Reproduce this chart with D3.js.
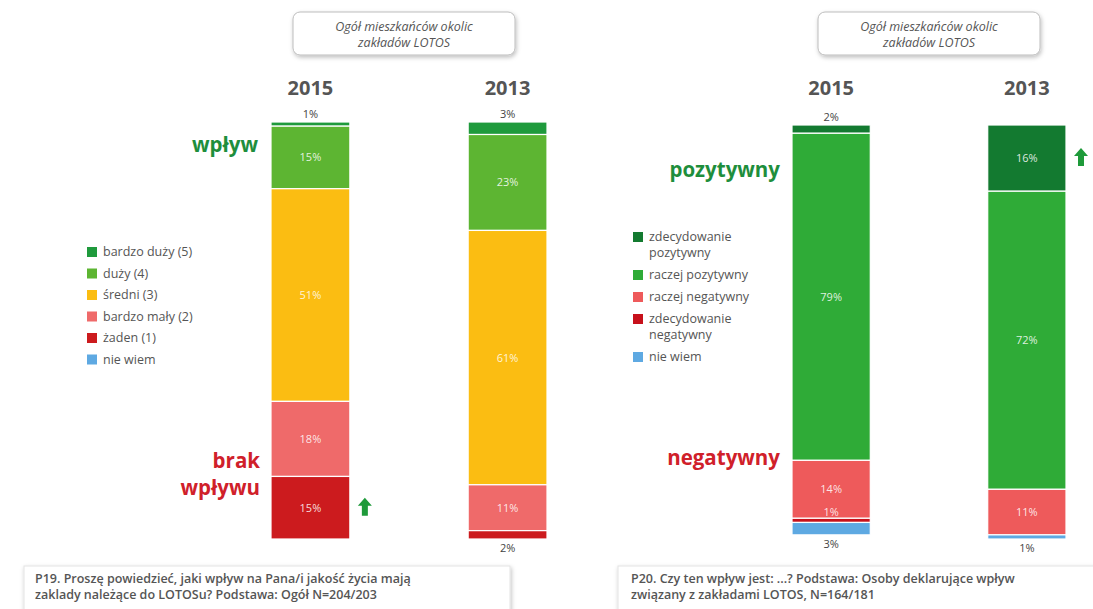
<!DOCTYPE html>
<html><head><meta charset="utf-8">
<script src="https://cdn.jsdelivr.net/npm/d3@7"></script>
<style>
body{margin:0;background:#fff;}
svg{display:block;font-family:"Open Sans","Noto Sans",sans-serif;}
</style></head><body>
<svg id="c" width="1093" height="609"></svg>
<script>
// ---- data ----
const years = ["2015", "2013"];
const keysP19 = ["bardzo duży (5)", "duży (4)", "średni (3)", "bardzo mały (2)", "żaden (1)", "nie wiem"];
const valuesP19_2015 = [1, 15, 51, 18, 15, 0];
const valuesP19_2013 = [3, 23, 61, 11, 2, 0];
const colorsP19 = ["#1f9a3c", "#5db532", "#fbbd12", "#ef6a6a", "#cc1b1e", "#5ea9e2"];

const keysP20 = ["zdecydowanie pozytywny", "raczej pozytywny", "raczej negatywny", "zdecydowanie negatywny", "nie wiem"];
const legendP20 = [["zdecydowanie", "pozytywny"], ["raczej pozytywny"], ["raczej negatywny"], ["zdecydowanie", "negatywny"], ["nie wiem"]];
const valuesP20_2015 = [2, 79, 14, 1, 3];
const valuesP20_2013 = [16, 72, 11, 0, 1];
const colorsP20 = ["#137a30", "#2fab37", "#ee5a5b", "#c7111b", "#5ea9e2"];

const headerText = ["Ogół mieszkańców okolic", "zakładów LOTOS"];
const noteP19 = ["P19. Proszę powiedzieć, jaki wpływ na Pana/i jakość życia mają", "zaklady należące do LOTOSu? Podstawa: Ogół N=204/203"];
const noteP20 = ["P20. Czy ten wpływ jest: ...? Podstawa: Osoby deklarujące wpływ", "związany z zakładami LOTOS, N=164/181"];

const svg = d3.select("#c");
const defs = svg.append("defs");
const f = defs.append("filter").attr("id","sh").attr("x","-10%").attr("y","-20%").attr("width","120%").attr("height","160%");
f.append("feDropShadow").attr("dx",1).attr("dy",2).attr("stdDeviation",2).attr("flood-color","#000").attr("flood-opacity",0.25);

function drawPanel(cfg){
  const g = svg.append("g");
  // header box
  g.append("rect").attr("x",cfg.boxX).attr("y",12).attr("width",222).attr("height",43).attr("rx",7)
    .attr("fill","#fff").attr("stroke","#bdbdbd").attr("filter","url(#sh)");
  headerText.forEach((t,i)=>g.append("text").attr("x",cfg.boxX+111).attr("y",31+i*16)
    .attr("text-anchor","middle").attr("font-size",12.5).attr("font-style","italic").attr("fill","#555").text(t));

  const x = d3.scaleBand().domain(years).range(cfg.xRange).paddingInner(cfg.pad);
  const y = d3.scaleLinear().domain([0,100]).range([cfg.top, cfg.bottom]);
  const rows = years.map((yr,i)=>{ const o={year:yr}; cfg.keys.forEach((k,j)=>o[k]=cfg.values[i][j]); return o; });
  const series = d3.stack().keys(cfg.keys)(rows);

  // year labels
  years.forEach(yr=>g.append("text").attr("x",x(yr)+x.bandwidth()/2).attr("y",95).attr("text-anchor","middle")
    .attr("font-size",20).attr("font-weight","bold").attr("fill","#555").text(yr));

  series.forEach((s,si)=>{
    s.forEach(d=>{
      const v = d[1]-d[0];
      if(v<=0) return;
      g.append("rect").attr("x",x(d.data.year)).attr("width",x.bandwidth())
        .attr("y",y(d[0])).attr("height",y(d[1])-y(d[0]))
        .attr("fill",cfg.colors[si]).attr("stroke","#fff").attr("stroke-width",1.2);
    });
  });
  // value labels
  years.forEach((yr,yi)=>{
    const vals = cfg.values[yi];
    const nz = vals.map((v,i)=>v>0?i:-1).filter(i=>i>=0);
    const first = nz[0], last = nz[nz.length-1];
    series.forEach((s,si)=>{
      const d = s[yi]; const v = d[1]-d[0];
      if(v<=0) return;
      const cx = x(yr)+x.bandwidth()/2;
      if(v>=5){
        g.append("text").attr("x",cx).attr("y",(y(d[0])+y(d[1]))/2+4).attr("text-anchor","middle")
          .attr("font-size",11).attr("fill","#fff").attr("fill-opacity",0.85).text(v+"%");
      } else if(si===first){
        g.append("text").attr("x",cx).attr("y",y(d[0])-4).attr("text-anchor","middle")
          .attr("font-size",11).attr("fill","#444").text(v+"%");
      } else if(si===last){
        g.append("text").attr("x",cx).attr("y",y(d[1])+13).attr("text-anchor","middle")
          .attr("font-size",11).attr("fill","#444").text(v+"%");
      } else {
        g.append("text").attr("x",cx).attr("y",y(d[0])-2).attr("text-anchor","middle")
          .attr("font-size",11).attr("fill","#fff").attr("fill-opacity",0.85).text(v+"%");
      }
    });
  });

  // legend
  let ly = cfg.legendY;
  cfg.legend.forEach((lines,i)=>{
    g.append("rect").attr("x",cfg.legendX).attr("y",ly-9).attr("width",10).attr("height",10).attr("fill",cfg.colors[i]);
    lines.forEach((t,li)=>g.append("text").attr("x",cfg.legendX+16).attr("y",ly+li*16).attr("font-size",12.5)
      .attr("fill","#555").text(t));
    ly += cfg.legendStep + (lines.length-1)*16;
  });

  // side labels
  cfg.side.forEach(s=>{
    s.lines.forEach((t,i)=>g.append("text").attr("x",s.x).attr("y",s.y+i*27).attr("text-anchor","end")
      .attr("font-size",20.5).attr("font-weight","bold").attr("fill",s.color).text(t));
  });
  // arrows
  cfg.arrows.forEach(a=>{
    const yr=a.year, si=a.idx, d=series[si][years.indexOf(yr)];
    const cy=(y(d[0])+y(d[1]))/2, ax=x(yr)+x.bandwidth()+a.dx;
    g.append("path").attr("d",`M${ax},${cy-10} L${ax+7},${cy-2} L${ax+3},${cy-2} L${ax+3},${cy+8} L${ax-3},${cy+8} L${ax-3},${cy-2} L${ax-7},${cy-2} Z`)
      .attr("fill","#1e9a3a");
  });

  // note box
  g.append("rect").attr("x",cfg.noteX).attr("y",566).attr("width",cfg.noteW).attr("height",50)
    .attr("fill","#fff").attr("stroke","#e3e3e3").attr("filter","url(#sh)");
  cfg.note.forEach((t,i)=>g.append("text").attr("x",cfg.noteX+cfg.noteInset).attr("y",583+i*16).attr("font-size",12.5)
    .attr("font-weight",600).attr("fill","#555").text(t));
}

drawPanel({
  boxX:293, xRange:[271,547], pad:0.6, top:122, bottom:539,
  keys:keysP19, values:[valuesP19_2015, valuesP19_2013], colors:colorsP19,
  legend:keysP19.map(k=>[k]), legendX:87, legendY:256, legendStep:21.5,
  side:[{x:258,y:152,lines:["wpływ"],color:"#1e8e3c"},{x:260,y:468,lines:["brak","wpływu"],color:"#d0202a"}],
  arrows:[{year:"2015",idx:4,dx:15}],
  noteX:24, noteW:486, noteInset:11, note:noteP19
});
drawPanel({
  boxX:818, xRange:[792,1066], pad:0.6, top:125, bottom:539,
  keys:keysP20, values:[valuesP20_2015, valuesP20_2013], colors:colorsP20,
  legend:legendP20, legendX:633, legendY:241, legendStep:22,
  side:[{x:780,y:177,lines:["pozytywny"],color:"#1e8e3c"},{x:780,y:465,lines:["negatywny"],color:"#d0202a"}],
  arrows:[{year:"2013",idx:0,dx:15}],
  noteX:618, noteW:500, noteInset:13, note:noteP20
});
</script></body></html>
